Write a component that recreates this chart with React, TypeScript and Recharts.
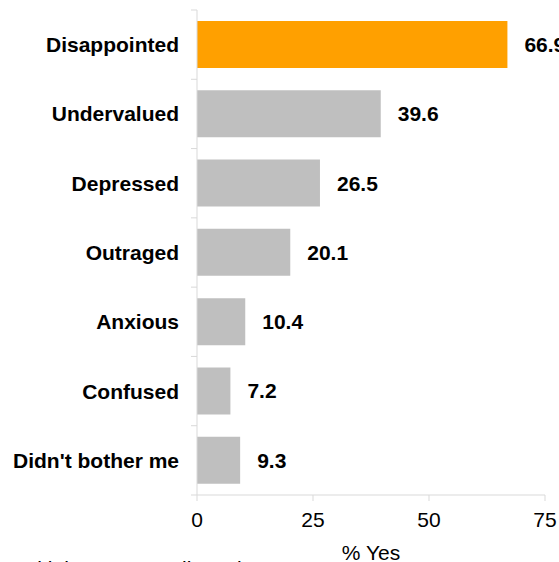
import { BarChart, Bar, XAxis, YAxis, Cell, LabelList, Label } from 'recharts';

const categories = [
  'Disappointed',
  'Undervalued',
  'Depressed',
  'Outraged',
  'Anxious',
  'Confused',
  "Didn't bother me",
];
const yesPercent = [66.9, 39.6, 26.5, 20.1, 10.4, 7.2, 9.3];
const highlighted = ['Disappointed'];
const xTicks = [0, 25, 50, 75];

const data = categories.map((name, i) => ({ name, value: yesPercent[i] }));

const W = 559;
const H = 562;
const MARGIN = { top: 10, right: 14, bottom: 0, left: 0 };
const X_AXIS_H = 67;
const Y_AXIS_W = 197;
const FONT = 'Arial, "Liberation Sans", sans-serif';
const AXIS_GREY = '#d9d9d9';
const BAND = (H - MARGIN.top - X_AXIS_H) / categories.length;

/* Excel-style category axis: ticks sit between categories, not on them */
function CategoryTick({ y, payload, index }: any) {
  const axisX = MARGIN.left + Y_AXIS_W;
  const last = index === categories.length - 1;
  return (
    <g>
      <line x1={axisX - 6} x2={axisX} y1={y - BAND / 2} y2={y - BAND / 2} stroke={AXIS_GREY} />
      {last && <line x1={axisX - 6} x2={axisX} y1={y + BAND / 2} y2={y + BAND / 2} stroke={AXIS_GREY} />}
      <text
        x={axisX - 18}
        y={y}
        textAnchor="end"
        dominantBaseline="central"
        fontSize={21}
        fontWeight="bold"
        fontFamily={FONT}
        fill="#000"
      >
        {payload.value}
      </text>
    </g>
  );
}

export default function App() {
  return (
    <div style={{ position: 'absolute', left: 0, top: 0, width: W, height: H, background: '#fff' }}>
      <BarChart
        width={W}
        height={H}
        data={data}
        layout="vertical"
        margin={MARGIN}
        barCategoryGap={11}
      >
        <XAxis
          type="number"
          domain={[0, 75]}
          ticks={xTicks}
          interval={0}
          height={X_AXIS_H}
          axisLine={{ stroke: AXIS_GREY }}
          tickLine={{ stroke: AXIS_GREY }}
          tickSize={6}
          tickMargin={11}
          tick={{ fill: '#000', fontSize: 21, fontFamily: FONT }}
        >
          <Label
            value="% Yes"
            position="insideBottom"
            offset={2}
            fill="#000"
            fontSize={21}
            fontFamily={FONT}
          />
        </XAxis>
        <YAxis
          type="category"
          dataKey="name"
          width={Y_AXIS_W}
          axisLine={{ stroke: AXIS_GREY }}
          tickLine={false}
          interval={0}
          tick={<CategoryTick />}
        />
        <Bar dataKey="value" isAnimationActive={false}>
          {data.map((d) => (
            <Cell key={d.name} fill={highlighted.includes(d.name) ? '#ffa000' : '#bfbfbf'} />
          ))}
          <LabelList
            dataKey="value"
            position="right"
            offset={17}
            formatter={(v: any) => Number(v).toFixed(1)}
            fill="#000"
            fontSize={21}
            fontWeight="bold"
            fontFamily={FONT}
          />
        </Bar>
      </BarChart>
      <svg width={W} height={H} style={{ position: 'absolute', left: 0, top: 0, pointerEvents: 'none' }}>
        <text x={0} y={576} fontSize={21} fontFamily={FONT} fill="#000">
          *Multiple answers allowed
        </text>
      </svg>
    </div>
  );
}
